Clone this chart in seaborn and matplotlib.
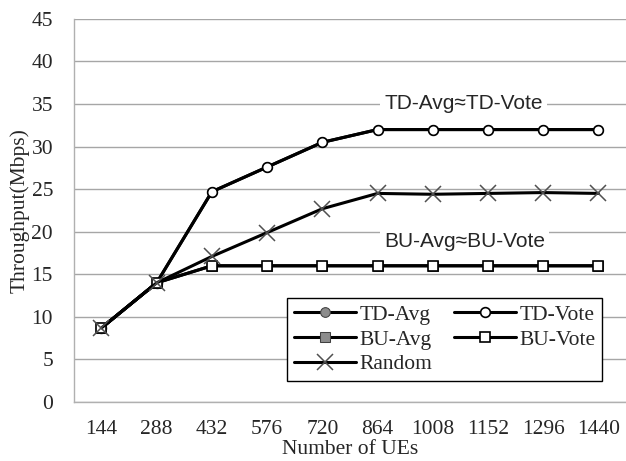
import matplotlib
matplotlib.use("Agg")
import matplotlib.pyplot as plt
import seaborn as sns
import pandas as pd

ues = ["144", "288", "432", "576", "720", "864", "1008", "1152", "1296", "1440"]
td_avg = [8.7, 14.0, 24.7, 27.6, 30.5, 32.0, 32.0, 32.0, 32.0, 32.0]
td_vote = [8.7, 14.0, 24.7, 27.6, 30.5, 32.0, 32.0, 32.0, 32.0, 32.0]
bu_avg = [8.7, 14.0, 16.0, 16.0, 16.0, 16.0, 16.0, 16.0, 16.0, 16.0]
bu_vote = [8.7, 14.0, 16.0, 16.0, 16.0, 16.0, 16.0, 16.0, 16.0, 16.0]
rand = [8.7, 14.0, 17.1, 19.9, 22.7, 24.5, 24.4, 24.5, 24.6, 24.5]
yticks = list(range(0, 50, 5))

sns.set_style("white")
plt.rcParams["font.family"] = ["Liberation Serif", "DejaVu Serif"]

fig = plt.figure(figsize=(6.26, 4.61), dpi=100)
ax = fig.add_axes([0.118, 0.128, 0.882, 0.831])

series = [
    ("TD-Avg", td_avg, dict(marker="o", markerfacecolor="#8c8c8c", markeredgecolor="#404040"), 3),
    ("TD-Vote", td_vote, dict(marker="o", markerfacecolor="white", markeredgecolor="black", markeredgewidth=1.2), 3.1),
    ("BU-Avg", bu_avg, dict(marker="s", markerfacecolor="#8c8c8c", markeredgecolor="#404040"), 3.2),
    ("BU-Vote", bu_vote, dict(marker="s", markerfacecolor="white", markeredgecolor="black", markeredgewidth=1.2), 3.3),
    ("Random", rand, dict(marker="x", markeredgecolor="#505050", markeredgewidth=1.1), 3.4),
]
sizes = {"o": 10, "s": 9.5, "x": 13}
for name, vals, kw, z in series:
    df = pd.DataFrame({"UEs": ues, "Throughput": vals})
    sns.lineplot(data=df, x="UEs", y="Throughput", ax=ax, color="black", linewidth=2.2,
                 markersize=sizes[kw["marker"]], label=name, sort=False, zorder=z, **kw)

ax.set_xlim(-0.5, 9.5)
ax.set_ylim(0, 45)
ax.set_yticks(yticks)
ax.yaxis.grid(True, color="#a6a6a6", linewidth=1.0)
ax.set_axisbelow(True)
for s in ["top", "right"]:
    ax.spines[s].set_visible(False)
for s in ["left", "bottom"]:
    ax.spines[s].set_color("#b0b0b0")
    ax.spines[s].set_linewidth(1.0)
ax.tick_params(axis="both", length=0, labelsize=15.5)
ax.tick_params(axis="y", pad=15)
ax.tick_params(axis="x", pad=13)
ax.set_xlabel("Number of UEs", fontsize=15.5, labelpad=1)
ax.set_ylabel("Throughput(Mbps)", fontsize=15.5, labelpad=1)

ax.text(6.56, 35.1, "TD-Avg\u2248TD-Vote", fontsize=15, family=["Liberation Sans", "DejaVu Sans"],
        ha="center", va="center", bbox=dict(facecolor="white", edgecolor="none", pad=3), zorder=2)
ax.text(6.58, 18.9, "BU-Avg\u2248BU-Vote", fontsize=15, family=["Liberation Sans", "DejaVu Sans"],
        ha="center", va="center", bbox=dict(facecolor="white", edgecolor="none", pad=3), zorder=2)

handles, labels = ax.get_legend_handles_labels()
hmap = dict(zip(labels, handles))
order = ["TD-Avg", "BU-Avg", "Random", "TD-Vote", "BU-Vote"]
hs = [hmap[k] for k in order]
for h in hs:
    h.set_markersize(7 if h.get_marker() != "x" else 11)
leg = ax.legend(hs, order, ncol=2, loc="lower right", bbox_to_anchor=(0.957, 0.055),
                prop=dict(family="Liberation Serif", size=15.5), frameon=True, fancybox=False,
                framealpha=1, edgecolor="black", borderaxespad=0,
                handlelength=2.9, handletextpad=0.15, columnspacing=1.0, labelspacing=0.22,
                borderpad=0.3)
leg.get_frame().set_linewidth(1.0)
leg.set_zorder(5)

fig.savefig("out.png", dpi=100)
